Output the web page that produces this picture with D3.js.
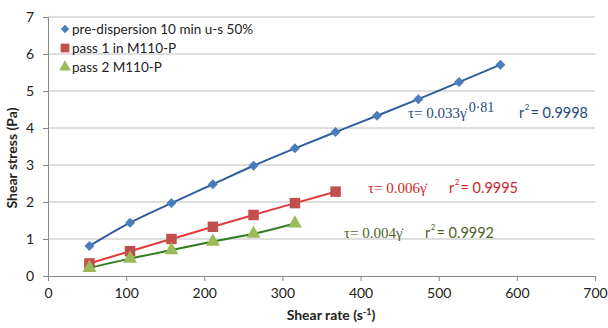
<!DOCTYPE html>
<html>
<head>
<meta charset="utf-8">
<script src="https://cdn.jsdelivr.net/npm/d3@7"></script>
<style>
  body { margin: 0; background: #fff; }
  text { font-family: Lato, "Liberation Sans", sans-serif; }
</style>
</head>
<body>
<div id="chart"></div>
<script>
// data
const shearRate = [53, 105, 158, 211, 263, 316, 368, 421, 474, 526, 579];
const preDisp = [0.81, 1.44, 1.97, 2.48, 2.98, 3.45, 3.89, 4.33, 4.78, 5.24, 5.71];
const pass1 = [0.34, 0.67, 1.00, 1.33, 1.65, 1.97, 2.28];
const pass2 = [0.22, 0.47, 0.70, 0.93, 1.14, 1.42];
const xTicks = [0, 100, 200, 300, 400, 500, 600, 700];
const yTicks = [0, 1, 2, 3, 4, 5, 6, 7];
const seriesNames = ["pre-dispersion 10 min u-s 50%", "pass 1 in M110-P", "pass 2 M110-P"];

const width = 608, height = 328;
const margin = {top: 17, right: 13, bottom: 52, left: 48};

let svg = d3.select("#chart").append("svg")
    .attr("width", width)
    .attr("height", height);

let x = d3.scaleLinear().domain([0, 700]).range([margin.left, width - margin.right]);
let y = d3.scaleLinear().domain([0, 7]).range([height - margin.bottom, margin.top]);

// gridlines
svg.append("g")
    .selectAll("line")
    .data(yTicks.slice(1))
    .enter().append("line")
    .attr("x1", x(0)).attr("x2", x(700))
    .attr("y1", d => y(d)).attr("y2", d => y(d))
    .attr("stroke", "#bdbdbd").attr("stroke-width", 1);

// axes
let xAxis = svg.append("g")
    .attr("transform", `translate(0, ${y(0)})`)
    .call(d3.axisBottom(x).tickValues(xTicks).tickFormat(d3.format("d"))
        .tickSize(5).tickPadding(7).tickSizeOuter(0));
let yAxis = svg.append("g")
    .attr("transform", `translate(${x(0)}, 0)`)
    .call(d3.axisLeft(y).tickValues(yTicks).tickFormat(d3.format("d"))
        .tickSize(5).tickPadding(9).tickSizeOuter(0));
[xAxis, yAxis].forEach(a => {
    a.select(".domain").attr("stroke", "#878787");
    a.selectAll(".tick line").attr("stroke", "#878787");
    a.selectAll(".tick text").attr("fill", "#222").style("font-size", "14px")
        .style("font-family", "Lato, 'Liberation Sans', sans-serif");
});

// axis titles
svg.append("text")
    .attr("transform", `translate(17, 158) rotate(-90)`)
    .style("text-anchor", "middle")
    .style("font-size", "14px").style("font-weight", "bold").attr("fill", "#222")
    .text("Shear stress (Pa)");

let xt = svg.append("text")
    .attr("x", 331).attr("y", 320)
    .style("text-anchor", "middle")
    .style("font-size", "14px").style("font-weight", "bold").attr("fill", "#222");
xt.append("tspan").text("Shear rate (s");
xt.append("tspan").attr("dy", -5).style("font-size", "9px").text("-1");
xt.append("tspan").attr("dy", 5).text(")");

// series
const series = [
    {vals: preDisp, line: "#2f5d9a", fill: "#4a7ebb", shape: "diamond"},
    {vals: pass1, line: "#e03a3a", fill: "#c0504d", shape: "square"},
    {vals: pass2, line: "#2f7d1e", fill: "#9bbb59", shape: "triangle"}
];
const symbols = {diamond: d3.symbolSquare, square: d3.symbolSquare, triangle: d3.symbolTriangle};
const sizes = {diamond: 50, square: 110, triangle: 85};

let line = d3.line()
    .x(d => x(d[0])).y(d => y(d[1]))
    .curve(d3.curveMonotoneX);

function markerTransform(shape, px, py) {
    return `translate(${px}, ${py})` + (shape === "diamond" ? " rotate(45)" : "");
}

series.forEach(s => {
    let pts = s.vals.map((v, i) => [shearRate[i], v]);
    svg.append("path")
        .datum(pts)
        .attr("d", line)
        .attr("fill", "none")
        .attr("stroke", s.line)
        .attr("stroke-width", 2);
    svg.append("g").selectAll("path")
        .data(pts)
        .enter().append("path")
        .attr("transform", d => markerTransform(s.shape, x(d[0]), y(d[1])))
        .attr("d", d3.symbol().type(symbols[s.shape]).size(sizes[s.shape]))
        .attr("fill", s.fill);
});

// legend
let legend = svg.append("g");
seriesNames.forEach((name, i) => {
    let s = series[i];
    let ly = 29 + i * 19;
    legend.append("path")
        .attr("transform", markerTransform(s.shape, 65, ly))
        .attr("d", d3.symbol().type(symbols[s.shape]).size(sizes[s.shape] * 0.7))
        .attr("fill", s.fill);
    legend.append("text")
        .attr("x", 72).attr("y", ly + 5)
        .style("font-size", "13.5px").attr("fill", "#222")
        .text(name);
});

// fit annotations
function annot(xPos, rPos, yPos, color, coef, exp, r2) {
    let t = svg.append("text").attr("x", xPos).attr("y", yPos).attr("fill", color)
        .style("font-size", "15px")
        .style("font-family", "'Liberation Serif', 'DejaVu Serif', serif");
    t.append("tspan").text("\u03c4= " + coef + "\u03b3\u0307");
    if (exp) {
        t.append("tspan").attr("dx", 2).attr("dy", -6).style("font-size", "14px").text(exp);
    }
    let r = svg.append("text").attr("x", rPos).attr("y", yPos).attr("fill", color)
        .style("font-size", "14.5px");
    r.append("tspan").text("r");
    r.append("tspan").attr("dy", -8).attr("dx", 0.5).style("font-size", "8px").text("2");
    r.append("tspan").attr("dy", 8).attr("dx", 1).text("= " + r2);
}
annot(408, 519, 118, "#27497a", "0.033", "0\u00b781", "0.9998");
annot(368, 449, 193, "#d0232a", "0.006", null, "0.9995");
annot(344, 425, 238, "#4f6228", "0.004", null, "0.9992");
</script>
</body>
</html>
